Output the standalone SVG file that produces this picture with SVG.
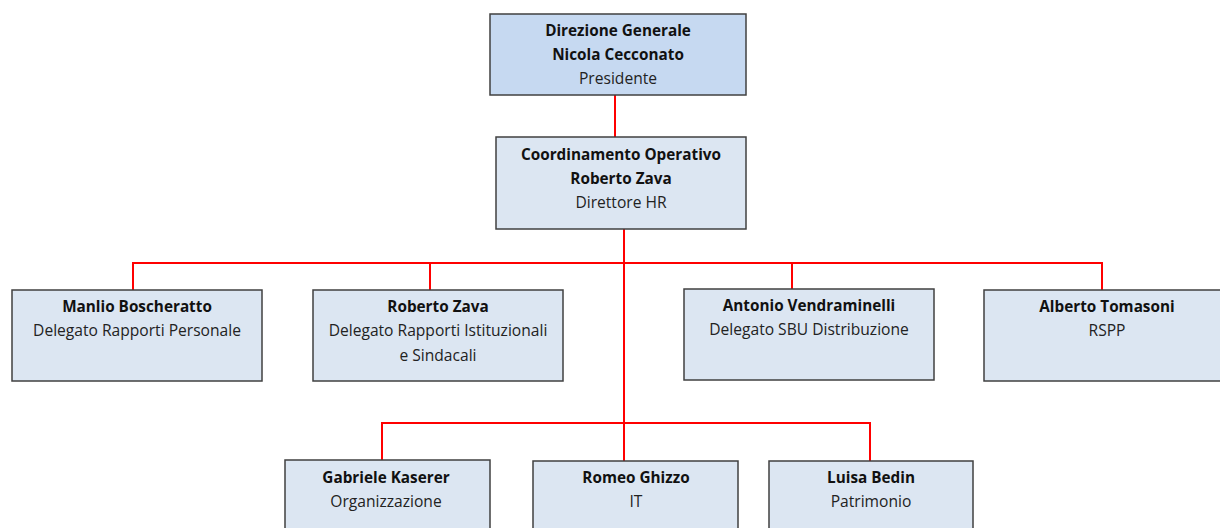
<svg xmlns="http://www.w3.org/2000/svg" width="1220" height="528" viewBox="0 0 1220 528">
<style>
.box{fill:#dce6f2;stroke:#404040;stroke-width:1.5}
.top{fill:#c6d9f1}
.b{font-family:"Open Sans","Liberation Sans",Arial,sans-serif;font-size:15.3px;font-weight:bold;fill:#111;text-anchor:middle}
.r{font-family:"Open Sans","Liberation Sans",Arial,sans-serif;font-size:15.6px;fill:#222;text-anchor:middle}
.c{stroke:#ff0000;stroke-width:2;fill:none}
</style>
<rect width="1220" height="528" fill="#fff"/>
<g id="connectors" class="c">
<line x1="615" y1="95" x2="615" y2="137"/>
<line x1="624" y1="229" x2="624" y2="461"/>
<polyline points="133,290 133,263 1102,263 1102,290"/>
<line x1="430" y1="263" x2="430" y2="290"/>
<line x1="792" y1="263" x2="792" y2="289"/>
<polyline points="382,460 382,423 870,423 870,461"/>
</g>
<g id="n-direzione">
<rect class="box top" x="490" y="14" width="256" height="81"/>
<text class="b" x="618" y="36">Direzione Generale</text>
<text class="b" x="618" y="60">Nicola Cecconato</text>
<text class="r" x="618" y="84">Presidente</text>
</g>
<g id="n-coordinamento">
<rect class="box" x="496" y="137" width="250" height="92"/>
<text class="b" x="621" y="160">Coordinamento Operativo</text>
<text class="b" x="621" y="184">Roberto Zava</text>
<text class="r" x="621" y="208">Direttore HR</text>
</g>
<g id="n-manlio">
<rect class="box" x="12" y="290" width="250" height="91"/>
<text class="b" x="137" y="312">Manlio Boscheratto</text>
<text class="r" x="137" y="336">Delegato Rapporti Personale</text>
</g>
<g id="n-roberto">
<rect class="box" x="313" y="290" width="250" height="91"/>
<text class="b" x="438" y="312">Roberto Zava</text>
<text class="r" x="438" y="336">Delegato Rapporti Istituzionali</text>
<text class="r" x="438" y="361">e Sindacali</text>
</g>
<g id="n-antonio">
<rect class="box" x="684" y="289" width="250" height="91"/>
<text class="b" x="809" y="311">Antonio Vendraminelli</text>
<text class="r" x="809" y="335">Delegato SBU Distribuzione</text>
</g>
<g id="n-alberto">
<rect class="box" x="984" y="290" width="250" height="91"/>
<text class="b" x="1107" y="312">Alberto Tomasoni</text>
<text class="r" x="1107" y="336">RSPP</text>
</g>
<g id="n-gabriele">
<rect class="box" x="285" y="460" width="205" height="80"/>
<text class="b" x="386" y="483">Gabriele Kaserer</text>
<text class="r" x="386" y="507">Organizzazione</text>
</g>
<g id="n-romeo">
<rect class="box" x="533" y="461" width="205" height="80"/>
<text class="b" x="636" y="483">Romeo Ghizzo</text>
<text class="r" x="636" y="507">IT</text>
</g>
<g id="n-luisa">
<rect class="box" x="769" y="461" width="204" height="80"/>
<text class="b" x="871" y="483">Luisa Bedin</text>
<text class="r" x="871" y="507">Patrimonio</text>
</g>
</svg>
